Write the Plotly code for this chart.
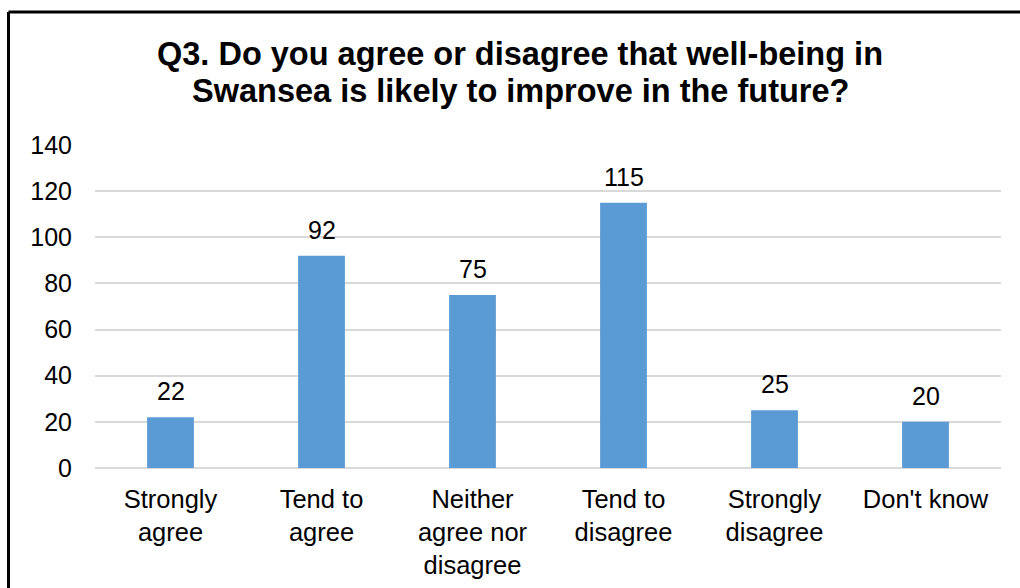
import plotly.graph_objects as go

categories = ["Strongly<br>agree", "Tend to<br>agree", "Neither<br>agree nor<br>disagree",
              "Tend to<br>disagree", "Strongly<br>disagree", "Don't know"]
responses = [22, 92, 75, 115, 25, 20]
y_ticks = [0, 20, 40, 60, 80, 100, 120, 140]
title_lines = ["Q3. Do you agree or disagree that well-being in",
               "Swansea is likely to improve in the future?"]

FONT = "Liberation Sans, Arial, sans-serif"
BAR_COLOR = "#5B9BD5"
GRID_COLOR = "#D9D9D9"

fig = go.Figure()
fig.add_trace(go.Bar(
    x=categories,
    y=responses,
    marker=dict(color=BAR_COLOR, line=dict(width=0)),
    width=0.31,
    hoverinfo="x+y",
))

# value labels above each bar
for cat, val in zip(categories, responses):
    fig.add_annotation(
        x=cat, y=val, text=str(val), showarrow=False,
        yanchor="bottom", yshift=10,
        font=dict(family=FONT, size=25, color="#000000"),
    )

# two-line title
for i, line in enumerate(title_lines):
    fig.add_annotation(
        xref="paper", yref="paper", x=(520 - 95) / 906, y=(468 - (54 + i * 37)) / 323,
        text=f"<b>{line}</b>", showarrow=False, xanchor="center", yanchor="middle",
        font=dict(family=FONT, size=32.5, color="#000000"),
    )

# frame lines on the top and left edges
fig.add_shape(type="line", xref="paper", yref="paper",
              x0=(8.5 - 95) / 906, x1=(1025 - 95) / 906,
              y0=(468 - 12) / 323, y1=(468 - 12) / 323,
              line=dict(color="#000000", width=3))
fig.add_shape(type="line", xref="paper", yref="paper",
              x0=(8.5 - 95) / 906, x1=(8.5 - 95) / 906,
              y0=(468 - 12) / 323, y1=(468 - 600) / 323,
              line=dict(color="#000000", width=3))

fig.update_layout(
    width=1020, height=588,
    margin=dict(l=95, r=19, t=145, b=120),
    paper_bgcolor="#FFFFFF", plot_bgcolor="#FFFFFF",
    showlegend=False,
    font=dict(family=FONT, size=25, color="#000000"),
    xaxis=dict(
        showgrid=False, showline=False, ticks="", automargin=False,
        tickfont=dict(family=FONT, size=25.5, color="#000000"),
        ticklabelstandoff=13,
    ),
    yaxis=dict(
        range=[0, 140], tickvals=y_ticks, ticktext=[str(v) for v in y_ticks],
        showgrid=True, gridcolor=GRID_COLOR, gridwidth=2,
        zeroline=True, zerolinecolor=GRID_COLOR, zerolinewidth=2,
        showline=False, ticks="", automargin=False,
        tickfont=dict(family=FONT, size=25, color="#000000"),
        ticklabelstandoff=22,
    ),
)

fig.write_html("out.html")
